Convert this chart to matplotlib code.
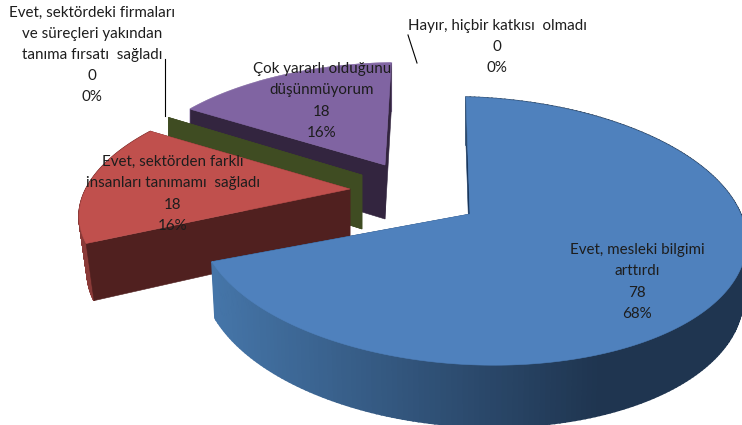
import numpy as np
import matplotlib
matplotlib.use("Agg")
import matplotlib.pyplot as plt
from matplotlib.patches import Polygon
from matplotlib.colors import to_rgb

categories = ["Evet, mesleki bilgimi\narttırdı",
              "Evet, sektörden farklı\ninsanları tanımamı  sağladı",
              "Evet, sektördeki firmaları\nve süreçleri yakından\ntanıma fırsatı  sağladı",
              "Çok yararlı olduğunu\ndüşünmüyorum",
              "Hayır, hiçbir katkısı  olmadı"]
values = [78, 18, 0, 18, 0]

# --- styling / projection (pixel-space figure) ---
W, H = 742, 425
START = -2.0
K = 0.127
R, S, DEPTH = 268.0, 132.0, 54.0
tops = ["#4F81BD", "#C0504D", "#9BBB59", "#8064A2", "#4BACC6"]
faces = ["#17365D", "#50201F", "#3F4C22", "#33253F", "#215968"]
rims = [None, "#8A3A38", "#3F4C22", "#9A85B5", "#215968"]
apex = [(470, 214), (350, 189), (362, 175), (385, 165), (410, 160)]
sx = [1.01, 0.985, 0.90, 0.94, 0.9]
sy = [1.0, 0.90, 0.90, 0.87, 0.9]
skew = [-0.16, 0.2, 0.0, 0.12, 0.0]
turn = [5.5, 0.0, 0.0, 0.0, 0.0]
shrink = [0.012, 0.03, 0.0, 0.0, 0.0]
face_z = [0.5, 1.5, 1.5, 1.5, 0.5]
label_pos = [(637, 282), (173, 194), (92, 55), (322, 101), (497, 47)]
leaders = [None, None, ((165, 59), (165, 116)), None, ((408, 35), (417, 63))]

plt.rcParams["font.family"] = ["Lato", "DejaVu Sans"]
fig = plt.figure(figsize=(W / 100, H / 100), dpi=100)
ax = fig.add_axes([0, 0, 1, 1])
ax.set_xlim(0, W)
ax.set_ylim(H, 0)
ax.axis("off")

total = sum(values)
edges = START + np.cumsum([0] + values) / total * 360.0


def project(i, theta):
    """Screen position of rim points of slice i: top surface and base."""
    t = np.radians(theta + turn[i])
    u, v = np.sin(t), np.cos(t)
    w = 1 + K * v
    X, Y = R * u / w, -S * v / w
    x = apex[i][0] + sx[i] * X - skew[i] * Y
    y = apex[i][1] + sy[i] * Y
    bx = x - shrink[i] * (x - apex[i][0])
    return x, y, bx, DEPTH / w


def poly(pts, color, z, lw=0.4):
    ax.add_patch(Polygon(pts, closed=True, facecolor=color, edgecolor=color,
                         linewidth=lw, zorder=z))


def lerp(a, b, f):
    a, b = np.array(to_rgb(a)), np.array(to_rgb(b))
    return tuple(a + (b - a) * np.clip(f, 0, 1))


layer = {3: 10, 2: 20, 1: 30, 0: 40, 4: 5}
for i, val in enumerate(values):
    if i == 4:
        continue
    z = layer[i]
    a0, a1 = edges[i], edges[i + 1]
    ax_, ay_ = apex[i]
    # cut faces
    for ang in (a0, a1):
        x, y, bx, d = project(i, ang)
        poly([(ax_, ay_), (x, y), (bx, y + d), (ax_, ay_ + DEPTH)], faces[i], z + face_z[i])
    if val == 0:
        continue
    # outer wall
    th = np.linspace(a0, a1, 240)
    xs, ys, bxs, ds = project(i, th)
    for j in range(len(th) - 1):
        if i == 0:
            f = (xs[j] - 215) / (600 - 215)
            col = lerp("#4575A8", "#1F3550", f)
        else:
            col = rims[i]
        poly([(xs[j], ys[j]), (xs[j + 1], ys[j + 1]),
              (bxs[j + 1], ys[j + 1] + ds[j + 1]), (bxs[j], ys[j] + ds[j])], col, z + 1, lw=1.2)
    # top
    poly([(ax_, ay_)] + list(zip(xs, ys)), tops[i], z + 2)

for seg in leaders:
    if seg:
        ax.plot(*zip(*seg), color="black", lw=0.8, zorder=50)

for name, val, (lx, ly) in zip(categories, values, label_pos):
    pct = round(val / total * 100)
    ax.text(lx, ly, f"{name}\n{val}\n{pct}%", ha="center", va="center", fontsize=10.9,
            color="#1d1d1d", linespacing=1.65, zorder=60)

fig.savefig("out.png", dpi=100)
